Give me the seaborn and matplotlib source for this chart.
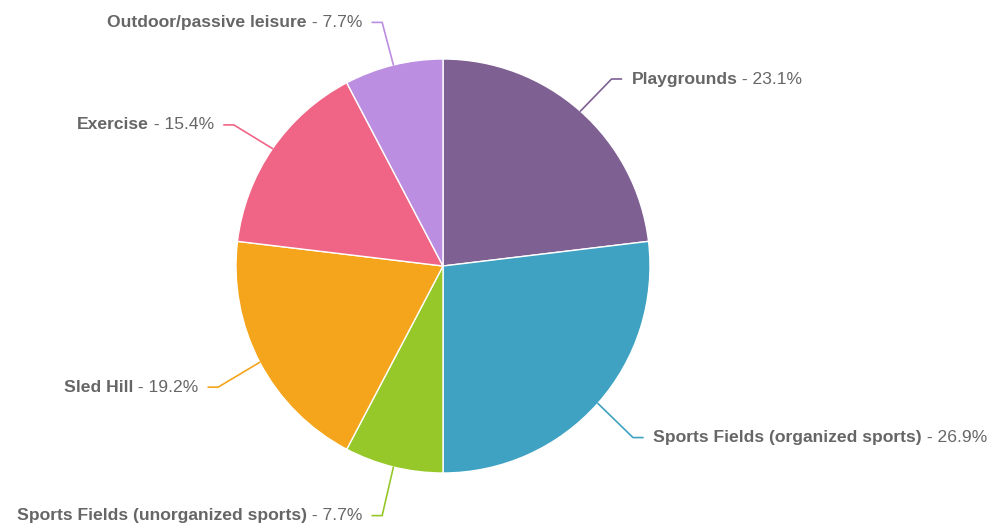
import numpy as np
import seaborn as sns
import matplotlib.pyplot as plt

# Slice data (clockwise from 12 o'clock)
categories = [
    "Playgrounds",
    "Sports Fields (organized sports)",
    "Sports Fields (unorganized sports)",
    "Sled Hill",
    "Exercise",
    "Outdoor/passive leisure",
]
shares = [23.1, 26.9, 7.7, 19.2, 15.4, 7.7]
colors = ["#7e6092", "#3fa2c2", "#96c82a", "#f5a51b", "#f06585", "#bc8ee2"]

sns.set_theme(style="white")
plt.rcParams["font.family"] = ["Liberation Sans", "DejaVu Sans"]

W, H = 1003, 529
fig = plt.figure(figsize=(W / 100, H / 100), dpi=100)
ax = fig.add_axes([0, 0, 1, 1])
ax.set_aspect("equal")
ax.axis("off")

cx, cy, r = 443, 263, 207
wedges, _ = ax.pie(shares, colors=colors, startangle=90, counterclock=False,
                   center=(cx, cy), radius=r,
                   wedgeprops=dict(edgecolor="white", linewidth=1))
ax.set_xlim(0, W)
ax.set_ylim(0, H)

label_r = 254
tcolor = "#666666"
fs = 12.6
for w, name, val, col in zip(wedges, categories, shares, colors):
    mid = np.deg2rad((w.theta1 + w.theta2) / 2)
    ex, ey = cx + r * np.cos(mid), cy + r * np.sin(mid)
    kx, ky = cx + label_r * np.cos(mid), cy + label_r * np.sin(mid) - 3
    side = 1 if np.cos(mid) >= 0 else -1
    hx = kx + side * 10
    ax.plot([ex, kx, hx], [ey, ky, ky], color=col, lw=1.2,
            solid_joinstyle="round", solid_capstyle="round")
    tx = hx + side * 10
    if side > 0:
        t1 = ax.text(tx, ky, name, ha="left", va="center", fontsize=fs,
                     fontweight="bold", color=tcolor)
        ax.annotate(f" - {val}%", xy=(1, 0.5), xycoords=t1, ha="left",
                    va="center", fontsize=fs, color=tcolor)
    else:
        t2 = ax.text(tx, ky, f" - {val}%", ha="right", va="center",
                     fontsize=fs, color=tcolor)
        ax.annotate(name, xy=(0, 0.5), xycoords=t2, ha="right", va="center",
                    fontsize=fs, fontweight="bold", color=tcolor)

fig.savefig("out.png", dpi=100, facecolor="white")
plt.close(fig)
